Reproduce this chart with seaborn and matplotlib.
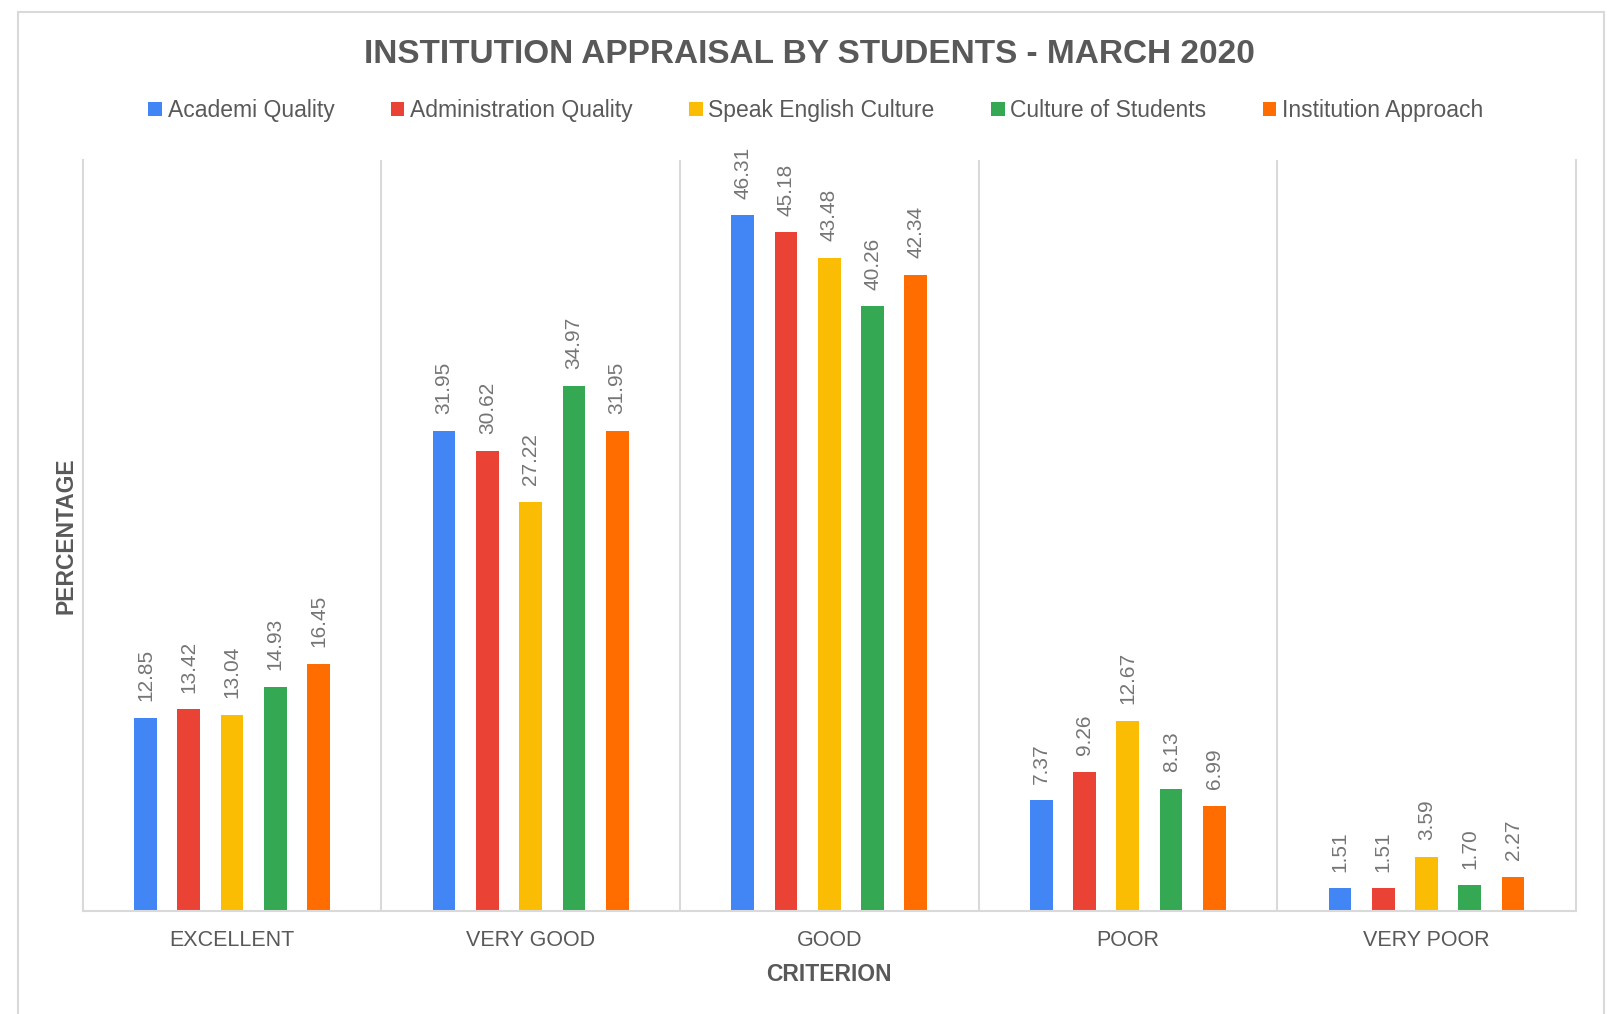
import matplotlib

matplotlib.use("Agg")

import matplotlib.pyplot as plt
import pandas as pd
import seaborn as sns
from matplotlib.patches import Rectangle

CRITERIA = ["EXCELLENT", "VERY GOOD", "GOOD", "POOR", "VERY POOR"]
SERIES = [
    "Academi Quality",
    "Administration Quality",
    "Speak English Culture",
    "Culture of Students",
    "Institution Approach",
]
ACADEMI_QUALITY = [12.85, 31.95, 46.31, 7.37, 1.51]
ADMINISTRATION_QUALITY = [13.42, 30.62, 45.18, 9.26, 1.51]
SPEAK_ENGLISH_CULTURE = [13.04, 27.22, 43.48, 12.67, 3.59]
CULTURE_OF_STUDENTS = [14.93, 34.97, 40.26, 8.13, 1.70]
INSTITUTION_APPROACH = [16.45, 31.95, 42.34, 6.99, 2.27]
COLORS = ["#4285F4", "#EA4335", "#FBBC04", "#34A853", "#FF6D01"]

TEXT_GREY = "#595959"
LABEL_GREY = "#757575"
LINE_GREY = "#D9D9D9"


def build_frame() -> pd.DataFrame:
    values = [
        ACADEMI_QUALITY,
        ADMINISTRATION_QUALITY,
        SPEAK_ENGLISH_CULTURE,
        CULTURE_OF_STUDENTS,
        INSTITUTION_APPROACH,
    ]
    rows = []
    for name, vals in zip(SERIES, values):
        for crit, v in zip(CRITERIA, vals):
            rows.append({"criterion": crit, "series": name, "value": v})
    return pd.DataFrame(rows)


def main() -> None:
    sns.set_theme(style="white")
    plt.rcParams["font.family"] = ["Liberation Sans", "DejaVu Sans"]

    df = build_frame()

    fig = plt.figure(figsize=(16.18, 10.14), dpi=100)
    ax = fig.add_axes([0.0511, 0.1016, 0.9228, 0.7406])

    sns.barplot(
        data=df,
        x="criterion",
        y="value",
        hue="series",
        order=CRITERIA,
        hue_order=SERIES,
        palette=COLORS,
        saturation=1,
        width=0.725,
        gap=0.476,
        linewidth=0,
        ax=ax,
    )

    for container in ax.containers:
        ax.bar_label(
            container,
            fmt="%.2f",
            rotation=90,
            padding=12,
            fontsize=15,
            color=LABEL_GREY,
        )

    ax.set_xlim(-0.5, 4.5)
    ax.set_ylim(0, 50)
    ax.set_yticks([])
    ax.tick_params(axis="x", length=0, pad=14, labelsize=15.5, labelcolor=TEXT_GREY)

    for x in [0.5, 1.5, 2.5, 3.5]:
        ax.axvline(x, color=LINE_GREY, linewidth=1.5, zorder=0)
    for side in ["left", "right", "bottom"]:
        ax.spines[side].set_color(LINE_GREY)
        ax.spines[side].set_linewidth(1.5)
    ax.spines["top"].set_visible(False)

    ax.set_xlabel("CRITERION", fontsize=16.5, fontweight="bold", color=TEXT_GREY, labelpad=8)
    ax.set_ylabel("PERCENTAGE", fontsize=16.5, fontweight="bold", color=TEXT_GREY, labelpad=4)

    sns.move_legend(
        ax,
        "center",
        bbox_to_anchor=(0.491, 1.066),
        ncol=5,
        frameon=False,
        title=None,
        fontsize=16.5,
        handlelength=0.6,
        handleheight=0.6,
        handletextpad=0.25,
        columnspacing=2.45,
    )
    for text in ax.get_legend().get_texts():
        text.set_color(TEXT_GREY)

    fig.text(
        0.5,
        0.946,
        "INSTITUTION APPRAISAL BY STUDENTS - MARCH 2020",
        ha="center",
        va="center",
        fontsize=24,
        fontweight="bold",
        color=TEXT_GREY,
    )

    frame = Rectangle(
        (17.5 / 1618, -0.05),
        (1604 - 17.5) / 1618,
        1.05 - 12.4 / 1014,
        transform=fig.transFigure,
        fill=False,
        edgecolor=LINE_GREY,
        linewidth=1.5,
        clip_on=False,
    )
    fig.patches.append(frame)

    fig.savefig("out.png", dpi=100)
    plt.close(fig)


if __name__ == "__main__":
    main()
